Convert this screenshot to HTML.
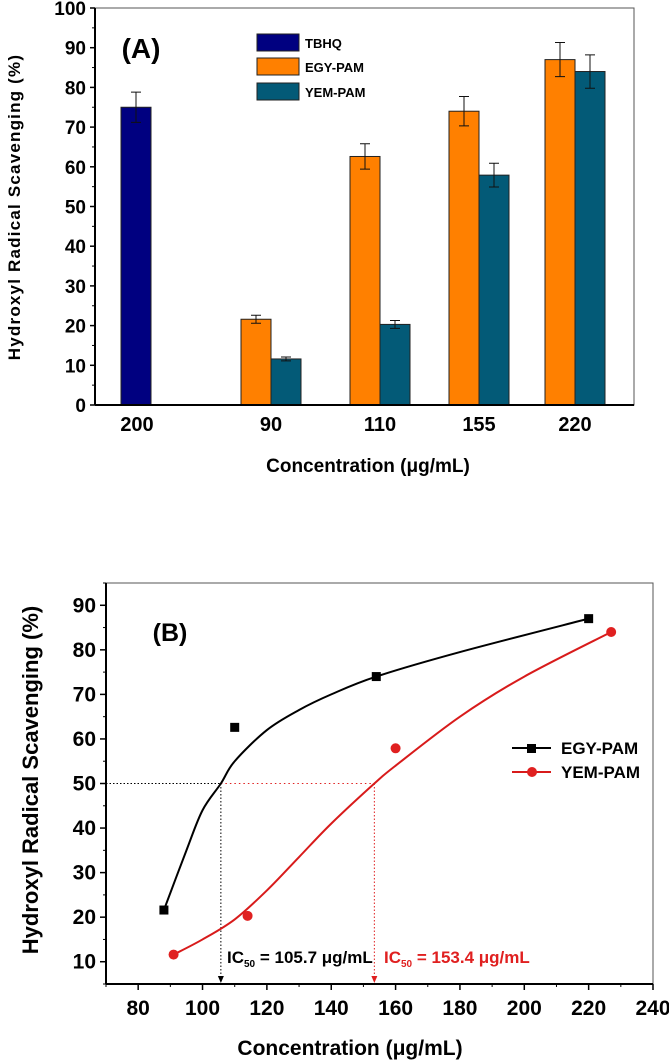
<!DOCTYPE html>
<html><head><meta charset="utf-8"><style>
body{margin:0;background:#fff}
svg{display:block;font-family:"Liberation Sans Narrow","Liberation Sans",Arial,sans-serif;font-weight:bold}
</style></head><body>
<svg id="s" width="669" height="1061" viewBox="0 0 669 1061"></svg>
<script>
// ---- Chart A data ----
const catsA = ["200","90","110","155","220"];
const tbhq = [75, null, null, null, null];
const tbhqErr = [3.8, 0, 0, 0, 0];
const egyA = [null, 21.6, 62.6, 74, 87];
const egyAErr = [0, 1.0, 3.2, 3.7, 4.3];
const yemA = [null, 11.6, 20.3, 57.9, 84];
const yemAErr = [0, 0.5, 1.0, 3.0, 4.2];
const yTicksA = [0,10,20,30,40,50,60,70,80,90,100];
// ---- Chart B data ----
const egyX = [88, 110, 154, 220];
const egyY = [21.6, 62.6, 74, 87];
const yemX = [91, 114, 160, 227];
const yemY = [11.6, 20.3, 57.9, 84];
const egyFitX = [88, 95, 100, 105.7, 110, 120, 130, 140, 154, 180, 220];
const egyFitY = [21.6, 35, 44, 50, 55, 62, 66.5, 70, 74, 79.5, 87];
const yemFitX = [91, 100, 110, 120, 130, 140, 153.4, 160, 180, 200, 227];
const yemFitY = [11.6, 15, 19.5, 26, 33.5, 41, 50, 54, 65, 74, 84];
const ic50 = [105.7, 153.4];
const xTicksB = [80,100,120,140,160,180,200,220,240];
const yTicksB = [10,20,30,40,50,60,70,80,90];

const S = document.getElementById('s');
const NS = "http://www.w3.org/2000/svg";
function mk(tag, attrs, parent){const e=document.createElementNS(NS,tag);for(const k in attrs)e.setAttribute(k,attrs[k]);(parent||S).appendChild(e);return e;}
function txt(x,y,t,size,anchor,fill,parent){const e=mk('text',{x:x,y:y,'font-size':size,'text-anchor':anchor||'middle',fill:fill||'#000'},parent);e.textContent=t;return e;}

// ===== Chart A =====
const gA = mk('g',{});


const aL=95,aR=634,aT=8,aB=405;
const yA = v => aB - v*(aB-aT)/100;
const catX = [137,271,380,479,575];
const bw = 30;
const fr = mk('rect',{x:aL,y:aT,width:aR-aL,height:aB-aT,fill:'none',stroke:'#555','stroke-width':1},gA);


function bar(x,v,e,color,name){
  const r=mk('rect',{x:x,y:yA(v),width:bw,height:aB-yA(v),fill:color,stroke:'#222','stroke-width':1},gA);
  
  
  const cx=x+bw/2;
  const eb=mk('path',{d:`M${cx} ${yA(v+e)}V${yA(v-e)}M${cx-5} ${yA(v+e)}H${cx+5}M${cx-5} ${yA(v-e)}H${cx+5}`,stroke:'#111','stroke-width':1,fill:'none'},gA);
  
  
}
for(let i=0;i<catsA.length;i++){
  if(tbhq[i]!=null) bar(catX[i]-16,tbhq[i],tbhqErr[i],'#000080','bar-tbhq-'+catsA[i]);
  if(egyA[i]!=null) bar(catX[i]-bw,egyA[i],egyAErr[i],'#ff8000','bar-egy-'+catsA[i]);
  if(yemA[i]!=null) bar(catX[i],yemA[i],yemAErr[i],'#035a77','bar-yem-'+catsA[i]);
  const t=txt(catX[i],431,catsA[i],20,'middle','#000',gA);
  
  
}
mk('line',{x1:aL,y1:aT,x2:aL,y2:aB,stroke:'#000','stroke-width':2},gA);
mk('line',{x1:aL,y1:aB,x2:aR,y2:aB,stroke:'#000','stroke-width':2},gA);
yTicksA.forEach(v=>{
  mk('line',{x1:aL-5,y1:yA(v),x2:aL,y2:yA(v),stroke:'#000','stroke-width':1.5},gA);
  if(v<100) mk('line',{x1:aL-3,y1:yA(v+5),x2:aL,y2:yA(v+5),stroke:'#000','stroke-width':1},gA);
  const t=txt(aL-9,yA(v)+7,String(v),19,'end','#000',gA);
  
  
});
const ytA=txt(0,0,'Hydroxyl  Radical  Scavenging  (%)',17,'middle','#000',gA);
ytA.setAttribute('transform','translate(20,207) rotate(-90)');
ytA.setAttribute('letter-spacing','1.2');


const xtA=txt(368,472,'Concentration (μg/mL)',19,'middle','#000',gA);


const lblA=txt(141,58,'(A)',28,'middle','#000',gA);


[['TBHQ','#000080',34],['EGY-PAM','#ff8000',58],['YEM-PAM','#035a77',83]].forEach(l=>{
  const g=mk('g',{},gA);
  
  
  mk('rect',{x:257,y:l[2],width:42,height:17,fill:l[1],stroke:'#222','stroke-width':1},g);
  txt(305,l[2]+14,l[0],13,'start','#000',g);
});

// ===== Chart B =====
const gB = mk('g',{});


const bL=106,bR=653,bT=583,bB=984;
const xB = v => bL + (v-70)*(bR-bL)/170;
const yB = v => bB - (v-5)*(bB-bT)/90;
const frB=mk('rect',{x:bL,y:bT,width:bR-bL,height:bB-bT,fill:'none',stroke:'#555','stroke-width':1},gB);


mk('line',{x1:bL,y1:bT,x2:bL,y2:bB,stroke:'#000','stroke-width':2},gB);
mk('line',{x1:bL,y1:bB,x2:bR,y2:bB,stroke:'#000','stroke-width':2},gB);
xTicksB.forEach(v=>{
  mk('line',{x1:xB(v),y1:bB,x2:xB(v),y2:bB+6,stroke:'#000','stroke-width':1.5},gB);
  mk('line',{x1:xB(v-10),y1:bB,x2:xB(v-10),y2:bB+3,stroke:'#000','stroke-width':1},gB);
  const t=txt(xB(v),1015,String(v),21,'middle','#000',gB);
  
  
});
yTicksB.forEach(v=>{
  mk('line',{x1:bL-6,y1:yB(v),x2:bL,y2:yB(v),stroke:'#000','stroke-width':1.5},gB);
  mk('line',{x1:bL-3,y1:yB(v+5),x2:bL,y2:yB(v+5),stroke:'#000','stroke-width':1},gB);
  const t=txt(bL-10,yB(v)+7,String(v),21,'end','#000',gB);
  
  
});
mk('line',{x1:bL-3,y1:yB(5),x2:bL,y2:yB(5),stroke:'#000'},gB);
const ytB=txt(0,0,'Hydroxyl Radical Scavenging (%)',22,'middle','#000',gB);
ytB.setAttribute('transform','translate(38,780) rotate(-90)');


const xtB=txt(350,1055,'Concentration (μg/mL)',21,'middle','#000',gB);


const lblB=txt(170,641,'(B)',25,'middle','#000',gB);



function smooth(xs,ys){
  const p=xs.map((x,i)=>[xB(x),yB(ys[i])]);
  let d=`M${p[0][0]} ${p[0][1]}`;
  for(let i=0;i<p.length-1;i++){
    const p0=p[i-1]||p[i],p1=p[i],p2=p[i+1],p3=p[i+2]||p2;
    d+=`C${p1[0]+(p2[0]-p0[0])/6} ${p1[1]+(p2[1]-p0[1])/6} ${p2[0]-(p3[0]-p1[0])/6} ${p2[1]-(p3[1]-p1[1])/6} ${p2[0]} ${p2[1]}`;
  }
  return d;
}
const g50=mk('g',{},gB);


mk('line',{x1:bL,y1:yB(50),x2:xB(ic50[0]),y2:yB(50),stroke:'#000','stroke-width':1,'stroke-dasharray':'1.5 2'},g50);
mk('line',{x1:xB(ic50[0]),y1:yB(50),x2:xB(ic50[1]),y2:yB(50),stroke:'#e02020','stroke-width':1,'stroke-dasharray':'1.5 3'},g50);
[[ic50[0],'#000'],[ic50[1],'#e02020']].forEach(a=>{
  const x=xB(a[0]);
  mk('line',{x1:x,y1:yB(50),x2:x,y2:bB-6,stroke:a[1],'stroke-width':1,'stroke-dasharray':'1.5 2'},g50);
  mk('path',{d:`M${x-3} ${bB-8}L${x+3} ${bB-8}L${x} ${bB-1}Z`,fill:a[1]},g50);
});
const cE=mk('path',{d:smooth(egyFitX,egyFitY),stroke:'#000','stroke-width':2,fill:'none'},gB);


const cY=mk('path',{d:smooth(yemFitX,yemFitY),stroke:'#d81b1b','stroke-width':2,fill:'none'},gB);


egyX.forEach((x,i)=>{
  const r=mk('rect',{x:xB(x)-4.5,y:yB(egyY[i])-4.5,width:9,height:9,fill:'#000'},gB);
  
  
});
yemX.forEach((x,i)=>{
  const c=mk('circle',{cx:xB(x),cy:yB(yemY[i]),r:5,fill:'#e02020'},gB);
  
  
});
const t1=mk('text',{x:227,y:963,'font-size':17,fill:'#000'},gB);
t1.innerHTML='IC<tspan font-size="10" dy="4">50</tspan><tspan dy="-4"> = 105.7 μg/mL</tspan>';


const t2=mk('text',{x:384,y:963,'font-size':17,fill:'#e02020'},gB);
t2.innerHTML='IC<tspan font-size="10" dy="4">50</tspan><tspan dy="-4"> = 153.4 μg/mL</tspan>';


const lg1=mk('g',{},gB);


mk('line',{x1:512,y1:748,x2:551,y2:748,stroke:'#000','stroke-width':2},lg1);
mk('rect',{x:527,y:744,width:9,height:9,fill:'#000'},lg1);
txt(561,754,'EGY-PAM',17,'start','#000',lg1);
const lg2=mk('g',{},gB);


mk('line',{x1:512,y1:772,x2:551,y2:772,stroke:'#d81b1b','stroke-width':2},lg2);
mk('circle',{cx:532,cy:772,r:5,fill:'#e02020'},lg2);
txt(561,778,'YEM-PAM',17,'start','#000',lg2);
</script>
</body></html>
